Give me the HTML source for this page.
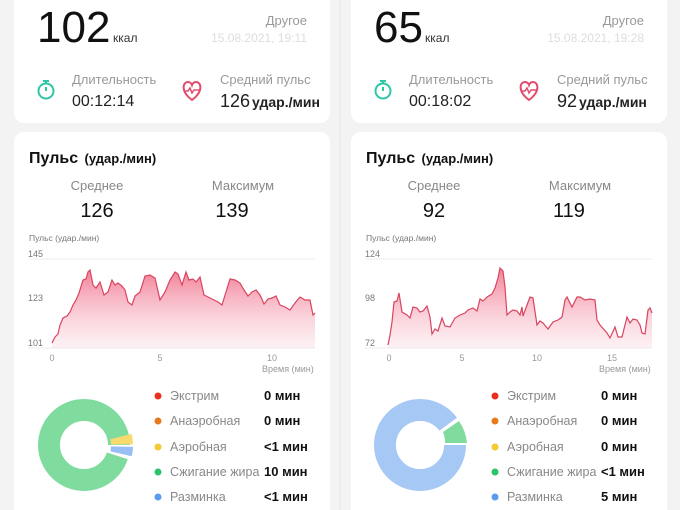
<!DOCTYPE html>
<html><head><meta charset="utf-8"><style>
html,body{margin:0;padding:0;background:#f3f3f3;}
svg{display:block;font-family:"Liberation Sans","Noto Sans CJK SC",sans-serif;}
</style></head><body>
<svg width="680" height="510" viewBox="0 0 680 510" xmlns="http://www.w3.org/2000/svg">
<defs>
<linearGradient id="g" x1="0" y1="0" x2="0" y2="1"><stop offset="0" stop-color="#f06a86" stop-opacity="0.85"/><stop offset="1" stop-color="#f8c8d2" stop-opacity="0.25"/></linearGradient>
<g id="panel">
<rect x="14" y="-10" width="316" height="133" rx="10" fill="#fff"/>
<rect x="14" y="132" width="316" height="400" rx="10" fill="#fff"/>
<text x="29" y="163" font-size="16" font-weight="bold" fill="#111">Пульс <tspan font-size="13" dx="2">(удар./мин)</tspan></text>
<text x="97" y="190" font-size="13" fill="#888" text-anchor="middle">Среднее</text>
<text x="243" y="190" font-size="13" fill="#888" text-anchor="middle">Максимум</text>
<text x="29" y="241" font-size="8.5" fill="#777">Пульс (удар./мин)</text>
<text x="72" y="84" font-size="13" fill="#999">Длительность</text>
<text x="220" y="84" font-size="13" fill="#999">Средний пульс</text>
<text x="307" y="25" font-size="13" fill="#999" text-anchor="end">Другое</text>
<g font-size="9" fill="#999"><text x="262" y="372">Время (мин)</text></g>
<circle cx="46" cy="91" r="7.5" fill="none" stroke="#2ec7a6" stroke-width="2"/>
<path d="M46 91 L46 87 M43 81 h6 M46 81 v2" stroke="#2ec7a6" stroke-width="2" fill="none"/>
<path d="M192 100 C180 91 183 82 188 82 C191 82 192 85 192 85 C192 85 193 82 196 82 C201 82 204 91 192 100 Z" fill="none" stroke="#e34d6d" stroke-width="2"/>
<path d="M185 91 h3 l2 -3 l2 5 l2 -3 h5" fill="none" stroke="#e34d6d" stroke-width="1.5"/>
<g font-size="12.5" fill="#888">
<text x="170" y="400">Экстрим</text><text x="170" y="425">Анаэробная</text><text x="170" y="451">Аэробная</text><text x="170" y="476">Сжигание жира</text><text x="170" y="501">Разминка</text></g>
<circle cx="158" cy="396" r="3.5" fill="#e8301e"/><circle cx="158" cy="421" r="3.5" fill="#e87a1e"/><circle cx="158" cy="447" r="3.5" fill="#f5c930"/><circle cx="158" cy="472" r="3.5" fill="#2dc36a"/><circle cx="158" cy="497" r="3.5" fill="#5b9bf0"/>
</g>
</defs>
<line x1="340" y1="0" x2="340" y2="510" stroke="#e6e6e6"/>
<use href="#panel"/>
<use href="#panel" x="337"/>

<text x="37" y="42" font-size="44" fill="#111">102</text>
<text x="113" y="42" font-size="12" fill="#333">ккал</text>
<text x="307" y="42" font-size="12" fill="#ddd" text-anchor="end">15.08.2021, 19:11</text>
<text x="72" y="106" font-size="16" fill="#222">00:12:14</text>
<text x="220" y="107" font-size="18" fill="#222">126<tspan font-size="14" font-weight="bold" dx="2">удар./мин</tspan></text>
<text x="97" y="217" font-size="20" fill="#111" text-anchor="middle">126</text>
<text x="232" y="217" font-size="20" fill="#111" text-anchor="middle">139</text>
<g font-size="9" fill="#777"><text x="28" y="257">145</text><text x="28" y="301">123</text><text x="28" y="346">101</text></g>
<g font-size="9" fill="#999" text-anchor="middle"><text x="52" y="361">0</text><text x="160" y="361">5</text><text x="272" y="361">10</text></g>
<line x1="28" y1="259" x2="315" y2="259" stroke="#eee"/><line x1="28" y1="348" x2="315" y2="348" stroke="#eee"/>
<polygon fill="url(#g)" points="52,348 52,343 55,337 58,334 60,325 63,318 67,316 70,312 73,305 76,300 79,293 83,280 86,279 88,272 90,270 93,285 96,288 100,282 104,295 108,292 112,280 115,285 118,283 122,286 125,290 128,302 132,305 135,296 140,292 145,276 150,275 155,278 160,300 165,292 170,280 175,272 178,274 182,285 186,272 189,280 193,279 196,282 200,277 204,295 210,298 214,300 218,302 222,305 226,292 230,279 235,280 240,283 244,290 248,296 252,292 256,290 260,295 264,304 268,299 272,298 276,296 280,305 285,307 290,310 295,303 300,297 305,300 310,300 313,315 315,313 315,348"/>
<polyline fill="none" stroke="#d9445f" stroke-width="1.2" points="52,343 55,337 58,334 60,325 63,318 67,316 70,312 73,305 76,300 79,293 83,280 86,279 88,272 90,270 93,285 96,288 100,282 104,295 108,292 112,280 115,285 118,283 122,286 125,290 128,302 132,305 135,296 140,292 145,276 150,275 155,278 160,300 165,292 170,280 175,272 178,274 182,285 186,272 189,280 193,279 196,282 200,277 204,295 210,298 214,300 218,302 222,305 226,292 230,279 235,280 240,283 244,290 248,296 252,292 256,290 260,295 264,304 268,299 272,298 276,296 280,305 285,307 290,310 295,303 300,297 305,300 310,300 313,315 315,313"/>
<circle cx="84" cy="445" r="35" fill="none" stroke="#7fdc9e" stroke-width="22"/>
<circle cx="84" cy="445" r="35" fill="none" stroke="#fff" stroke-width="24" stroke-dasharray="22 220" stroke-dashoffset="11"/>
<path d="M110.3 439.2 L131.6 433.9 A46 46 0 0 1 133 444.2 L111 444.6 A24 24 0 0 0 110.3 439.2 Z" fill="#f6da6e"/>
<path d="M111 446.4 L133 446.8 A46 46 0 0 1 131.8 456.3 L110.4 451.4 A24 24 0 0 0 111 446.4 Z" fill="#98bff4"/>
<g font-size="13" fill="#111" font-weight="bold"><text x="264" y="400">0 мин</text><text x="264" y="425">0 мин</text><text x="264" y="451">&lt;1 мин</text><text x="264" y="476">10 мин</text><text x="264" y="501">&lt;1 мин</text></g>

<text x="374" y="42" font-size="44" fill="#111">65</text>
<text x="425" y="42" font-size="12" fill="#333">ккал</text>
<text x="644" y="42" font-size="12" fill="#ddd" text-anchor="end">15.08.2021, 19:28</text>
<text x="409" y="106" font-size="16" fill="#222">00:18:02</text>
<text x="557" y="107" font-size="18" fill="#222">92<tspan font-size="14" font-weight="bold" dx="2">удар./мин</tspan></text>
<text x="434" y="217" font-size="20" fill="#111" text-anchor="middle">92</text>
<text x="569" y="217" font-size="20" fill="#111" text-anchor="middle">119</text>
<g font-size="9" fill="#777"><text x="365" y="257">124</text><text x="365" y="301">98</text><text x="365" y="346">72</text></g>
<g font-size="9" fill="#999" text-anchor="middle"><text x="389" y="361">0</text><text x="462" y="361">5</text><text x="537" y="361">10</text><text x="612" y="361">15</text></g>
<line x1="365" y1="259" x2="652" y2="259" stroke="#eee"/><line x1="365" y1="348" x2="652" y2="348" stroke="#eee"/>
<polygon fill="url(#g)" points="388,348 388,345 390,335 392,322 394,302 397,301 399,293 402,312 407,315 410,318 413,307 417,308 420,312 423,311 427,306 430,317 432,334 435,329 438,331 442,318 445,326 450,327 455,318 460,315 465,313 468,310 473,308 477,311 480,299 483,301 487,297 492,294 495,288 498,278 500,268 503,271 505,287 507,315 510,312 513,310 517,311 520,315 522,307 523,316 527,305 530,297 533,298 537,325 540,321 543,323 548,329 553,322 558,320 562,317 565,300 567,297 572,307 577,297 580,297 585,300 590,299 595,300 597,320 600,325 607,333 610,338 615,327 618,337 622,337 627,317 630,323 633,319 637,320 640,325 642,333 645,334 648,310 650,308 652,313 652,348"/>
<polyline fill="none" stroke="#d9445f" stroke-width="1.2" points="388,345 390,335 392,322 394,302 397,301 399,293 402,312 407,315 410,318 413,307 417,308 420,312 423,311 427,306 430,317 432,334 435,329 438,331 442,318 445,326 450,327 455,318 460,315 465,313 468,310 473,308 477,311 480,299 483,301 487,297 492,294 495,288 498,278 500,268 503,271 505,287 507,315 510,312 513,310 517,311 520,315 522,307 523,316 527,305 530,297 533,298 537,325 540,321 543,323 548,329 553,322 558,320 562,317 565,300 567,297 572,307 577,297 580,297 585,300 590,299 595,300 597,320 600,325 607,333 610,338 615,327 618,337 622,337 627,317 630,323 633,319 637,320 640,325 642,333 645,334 648,310 650,308 652,313"/>
<circle cx="420" cy="445" r="35" fill="none" stroke="#a6c8f5" stroke-width="22"/>
<path d="M420 445 L467 445 A47 47 0 0 0 458 417 Z" fill="#fff"/>
<path d="M445 443 L467 443 A46 46 0 0 0 459 421 L443 432 A24 24 0 0 1 445 443 Z" fill="#7fdc9e"/>
<circle cx="420" cy="445" r="24" fill="#fff"/>
<g font-size="13" fill="#111" font-weight="bold"><text x="601" y="400">0 мин</text><text x="601" y="425">0 мин</text><text x="601" y="451">0 мин</text><text x="601" y="476">&lt;1 мин</text><text x="601" y="501">5 мин</text></g>
</svg>
</body></html>
